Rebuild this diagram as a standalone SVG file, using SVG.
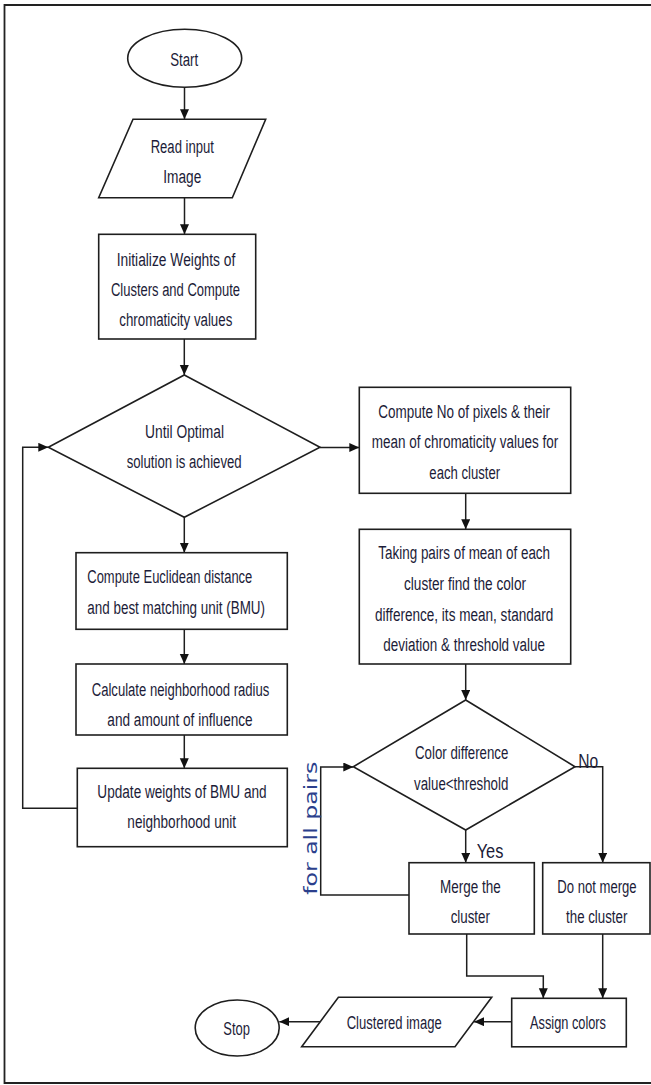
<svg xmlns="http://www.w3.org/2000/svg" width="651" height="1085" viewBox="0 0 651 1085">
<style>
.s{fill:#fff;stroke:#1e1e1e;stroke-width:1.6}
.c{fill:none;stroke:#1e1e1e;stroke-width:1.5}
text{font-family:"Liberation Sans",Arial,sans-serif;font-size:18px;fill:#1c1c38}
.m{text-anchor:middle}
.big{font-size:21px}
.fp{font-family:"DejaVu Sans",sans-serif;font-size:17px;fill:#2b3f8c}
</style>
<defs>
<marker id="a" markerUnits="userSpaceOnUse" markerWidth="11" markerHeight="10" refX="10" refY="4.5" orient="auto">
<path d="M0,0 L10,4.5 L0,9 z" fill="#111"/>
</marker>
</defs>
<rect width="651" height="1085" fill="#fff"/>
<path d="M652,5 H4.5 V1083 H652" fill="none" stroke="#222" stroke-width="1.8"/>

<g id="connectors">
<path class="c" d="M184.5,87.3 V119.3" marker-end="url(#a)"/>
<path class="c" d="M184.5,197.7 V234.3" marker-end="url(#a)"/>
<path class="c" d="M184.3,339 V375" marker-end="url(#a)"/>
<path class="c" d="M184.3,517.3 V552.7" marker-end="url(#a)"/>
<path class="c" d="M184.3,629.3 V664" marker-end="url(#a)"/>
<path class="c" d="M184.3,735 V768.3" marker-end="url(#a)"/>
<path class="c" d="M77.3,808.3 H22.7 V447.3 H48.3" marker-end="url(#a)"/>
<path class="c" d="M320,447.5 H359.3" marker-end="url(#a)"/>
<path class="c" d="M465.7,493.3 V529.3" marker-end="url(#a)"/>
<path class="c" d="M465.7,664 V700" marker-end="url(#a)"/>
<path class="c" d="M465.7,830 V862.7" marker-end="url(#a)"/>
<path class="c" d="M575,766.7 H602.7 V862.7" marker-end="url(#a)"/>
<path class="c" d="M409,895 H320.7 V767 H353.3" marker-end="url(#a)"/>
<path class="c" d="M466.7,934 V976 H543.3 V998.3" marker-end="url(#a)"/>
<path class="c" d="M602.7,934 V998.3" marker-end="url(#a)"/>
<path class="c" d="M511.7,1021.7 H474" marker-end="url(#a)"/>
<path class="c" d="M320.3,1021.7 H279.3" marker-end="url(#a)"/>
</g>

<g id="start">
<ellipse class="s" cx="184.7" cy="58.3" rx="57" ry="29"/>
<text class="m" x="184.2" y="66" textLength="28" lengthAdjust="spacingAndGlyphs">Start</text>
</g>

<g id="read">
<polygon class="s" points="133,119.3 265.7,119.3 232.3,197.7 98.7,197.7"/>
<text class="m" x="182.3" y="152.7" textLength="63.3" lengthAdjust="spacingAndGlyphs">Read input</text>
<text class="m" x="182.3" y="182.7" textLength="38" lengthAdjust="spacingAndGlyphs">Image</text>
</g>

<g id="init">
<rect class="s" x="98.7" y="234.3" width="157" height="104.7"/>
<text class="m" x="176" y="266" textLength="118.7" lengthAdjust="spacingAndGlyphs">Initialize Weights of</text>
<text class="m" x="175.5" y="296" textLength="129" lengthAdjust="spacingAndGlyphs">Clusters and Compute</text>
<text class="m" x="175.8" y="326" textLength="113" lengthAdjust="spacingAndGlyphs">chromaticity values</text>
</g>

<g id="until">
<polygon class="s" points="184.3,375 320,447.3 184.3,517.3 48.3,447.3"/>
<text class="m" x="184.5" y="437.7" textLength="79" lengthAdjust="spacingAndGlyphs">Until Optimal</text>
<text class="m" x="184.2" y="467.7" textLength="115" lengthAdjust="spacingAndGlyphs">solution is achieved</text>
</g>

<g id="euclid">
<rect class="s" x="76" y="552.7" width="211.3" height="76.6"/>
<text x="87.3" y="583.3" textLength="165" lengthAdjust="spacingAndGlyphs">Compute Euclidean distance</text>
<text x="87.3" y="614.3" textLength="177.7" lengthAdjust="spacingAndGlyphs">and best matching unit (BMU)</text>
</g>

<g id="calc">
<rect class="s" x="76" y="664" width="211.3" height="71"/>
<text class="m" x="180.5" y="696" textLength="177.6" lengthAdjust="spacingAndGlyphs">Calculate neighborhood radius</text>
<text class="m" x="180" y="726" textLength="145.3" lengthAdjust="spacingAndGlyphs">and amount of influence</text>
</g>

<g id="update">
<rect class="s" x="77.3" y="768.3" width="210" height="78.4"/>
<text class="m" x="182" y="797.7" textLength="169.3" lengthAdjust="spacingAndGlyphs">Update weights of BMU and</text>
<text class="m" x="181.7" y="827.7" textLength="108.7" lengthAdjust="spacingAndGlyphs">neighborhood unit</text>
</g>

<g id="computeNo">
<rect class="s" x="359.3" y="387.3" width="211.4" height="106"/>
<text class="m" x="464.2" y="417.7" textLength="171.7" lengthAdjust="spacingAndGlyphs">Compute No of pixels &amp; their</text>
<text class="m" x="465" y="447.7" textLength="186.7" lengthAdjust="spacingAndGlyphs">mean of chromaticity values for</text>
<text class="m" x="464.7" y="478.7" textLength="70.7" lengthAdjust="spacingAndGlyphs">each cluster</text>
</g>

<g id="taking">
<rect class="s" x="359.3" y="529.3" width="211.4" height="134.7"/>
<text class="m" x="464.2" y="559.3" textLength="171.7" lengthAdjust="spacingAndGlyphs">Taking pairs of mean of each</text>
<text class="m" x="465" y="590" textLength="122" lengthAdjust="spacingAndGlyphs">cluster find the color</text>
<text class="m" x="464.2" y="621" textLength="178.3" lengthAdjust="spacingAndGlyphs">difference, its mean, standard</text>
<text class="m" x="464.2" y="651" textLength="161.7" lengthAdjust="spacingAndGlyphs">deviation &amp; threshold value</text>
</g>

<g id="colordiff">
<polygon class="s" points="465.7,700 575,766.7 465.7,830 353.3,766.7"/>
<text class="m" x="461.7" y="759.3" textLength="93.3" lengthAdjust="spacingAndGlyphs">Color difference</text>
<text class="m" x="461.2" y="790" textLength="94.3" lengthAdjust="spacingAndGlyphs">value&lt;threshold</text>
</g>

<g id="labels">
<text class="m big" x="588.3" y="767.5" textLength="20" lengthAdjust="spacingAndGlyphs">No</text>
<text class="m big" x="490" y="857.5" textLength="26.7" lengthAdjust="spacingAndGlyphs">Yes</text>
<text class="fp" text-anchor="middle" transform="translate(316.5,828.3) rotate(-90)" textLength="133" lengthAdjust="spacingAndGlyphs">for all pairs</text>
</g>

<g id="merge">
<rect class="s" x="409" y="862.7" width="125.3" height="71.3"/>
<text class="m" x="470.3" y="892.7" textLength="60.7" lengthAdjust="spacingAndGlyphs">Merge the</text>
<text class="m" x="470.3" y="923.3" textLength="39.3" lengthAdjust="spacingAndGlyphs">cluster</text>
</g>

<g id="nomerge">
<rect class="s" x="542.7" y="862.7" width="107.3" height="71.3"/>
<text class="m" x="597" y="892.7" textLength="79.3" lengthAdjust="spacingAndGlyphs">Do not merge</text>
<text class="m" x="596.7" y="923.3" textLength="61.3" lengthAdjust="spacingAndGlyphs">the cluster</text>
</g>

<g id="assign">
<rect class="s" x="511.7" y="998.3" width="114.6" height="48.5"/>
<text class="m" x="568" y="1029.3" textLength="76" lengthAdjust="spacingAndGlyphs">Assign colors</text>
</g>

<g id="clustered">
<polygon class="s" points="338.4,997.3 491.7,997.3 455,1046.7 301.7,1046.7"/>
<text class="m" x="394.2" y="1029.3" textLength="95" lengthAdjust="spacingAndGlyphs">Clustered image</text>
</g>

<g id="stop">
<ellipse class="s" cx="237.2" cy="1028" rx="42" ry="28"/>
<text class="m" x="236.7" y="1035.3" textLength="26.7" lengthAdjust="spacingAndGlyphs">Stop</text>
</g>
</svg>
